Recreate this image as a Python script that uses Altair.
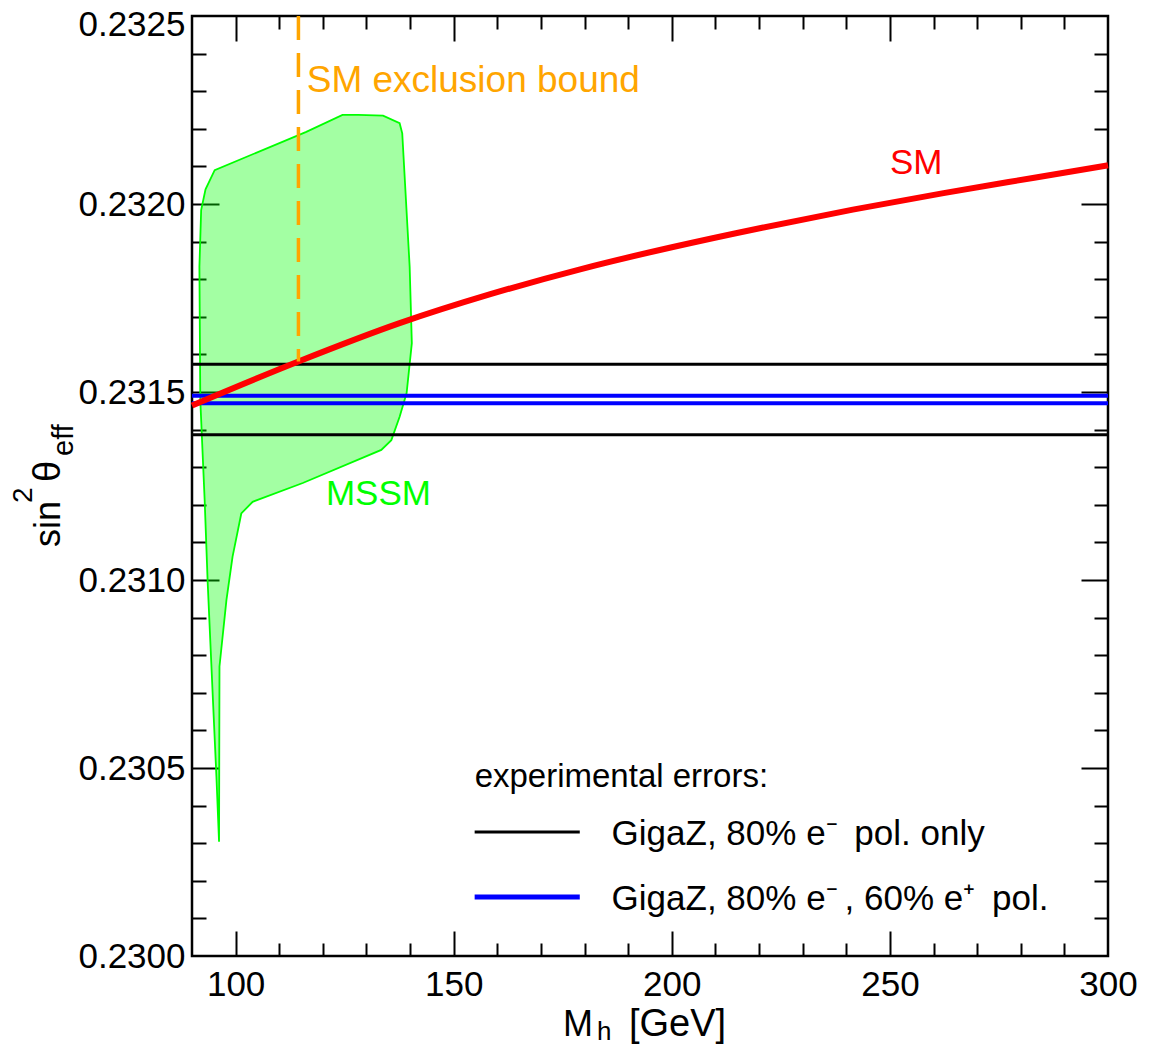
import altair as alt
import pandas as pd

FONT = "Liberation Sans"

# ---------------- axes ----------------
x_domain = [90, 300]
y_domain = [0.2300, 0.2325]
x_label_values = [100, 150, 200, 250, 300]
y_label_values = [0.2300, 0.2305, 0.2310, 0.2315, 0.2320, 0.2325]
x_major_ticks = [100, 150, 200, 250]
x_minor_ticks = [110, 120, 130, 140, 160, 170, 180, 190, 210, 220, 230, 240,
                 260, 270, 280, 290]
y_major_ticks = [0.2305, 0.2310, 0.2315, 0.2320]
y_minor_ticks = [0.2301, 0.2302, 0.2303, 0.2304, 0.2306, 0.2307, 0.2308, 0.2309,
                 0.2311, 0.2312, 0.2313, 0.2314, 0.2316, 0.2317, 0.2318, 0.2319,
                 0.2321, 0.2322, 0.2323, 0.2324]

# ---------------- data ----------------
# SM prediction
sm_mh = [90.0, 114.4, 137.6, 158.4, 179.2, 200.0, 220.7, 241.5, 262.3, 283.1, 300.0]
sm_s = [0.231464, 0.231581, 0.231683, 0.231760, 0.231827, 0.231885, 0.231937,
        0.231985, 0.232029, 0.232070, 0.232103]

# MSSM allowed region (outline, clockwise)
mssm_mh = [124.5, 128.1, 133.8, 137.6, 138.2, 139.9, 140.4, 139.2, 137.6, 135.7,
           133.4, 115.4, 103.9, 101.3, 99.3, 97.9, 96.3, 96.2, 95.6, 94.8, 93.6,
           92.9, 91.9, 91.7, 92.1, 93.1, 95.2, 116.2]
mssm_s = [0.232237, 0.232237, 0.232235, 0.232215, 0.232188, 0.231833, 0.231630,
          0.231497, 0.231434, 0.231372, 0.231346, 0.231258, 0.231208, 0.231177,
          0.231062, 0.230947, 0.230770, 0.230304, 0.230477, 0.230681, 0.230992,
          0.231213, 0.231479, 0.231833, 0.231984, 0.232039, 0.232090, 0.232192]

# experimental errors
exp_center = 0.23148
err_e_only = 0.000094
err_e_pos = 0.0000097

# SM exclusion bound
lep_bound = 114.4

xs = alt.Scale(domain=x_domain, nice=False, zero=False)
ys = alt.Scale(domain=y_domain, nice=False, zero=False)


def X(field="x", axis=None):
    return alt.X(f"{field}:Q", scale=xs, axis=axis)


def Y(field="y", axis=None):
    return alt.Y(f"{field}:Q", scale=ys, axis=axis)


# ---------------- layers ----------------
mssm_df = pd.DataFrame({"x": mssm_mh, "y": mssm_s, "i": list(range(len(mssm_mh)))})
mssm = alt.Chart(mssm_df).mark_line(
    fill="#00ff00", fillOpacity=0.36, stroke="#00ff00", strokeWidth=1.8,
    interpolate="linear-closed"
).encode(x=X(), y=Y(), order="i:Q")

black_df = pd.DataFrame({"y": [exp_center - err_e_only, exp_center + err_e_only]})
black_lines = alt.Chart(black_df).mark_rule(color="black", strokeWidth=3).encode(y=Y())

blue_df = pd.DataFrame({"y": [exp_center - err_e_pos, exp_center + err_e_pos]})
blue_lines = alt.Chart(blue_df).mark_rule(color="#0000ff", strokeWidth=4).encode(y=Y())

sm_df = pd.DataFrame({"x": sm_mh, "y": sm_s})
sm_line = alt.Chart(sm_df).mark_line(
    color="#ff0000", strokeWidth=6, interpolate="monotone"
).encode(x=X(), y=Y())

bound_df = pd.DataFrame({"x": [lep_bound], "y": [y_domain[1]], "y2": [sm_s[1]]})
bound = alt.Chart(bound_df).mark_rule(
    color="#ffa500", strokeWidth=3.5, strokeDash=[24, 13]
).encode(x=X(), y=Y(), y2="y2:Q")


def label(text, x, y, color="black", size=35, **kw):
    df = pd.DataFrame({"x": [x], "y": [y], "t": [text]})
    return alt.Chart(df).mark_text(
        font=FONT, fontSize=size, color=color, align="left",
        baseline="alphabetic", **kw
    ).encode(x=X(), y=Y(), text="t:N")


def plabel(text, px, py, size=35, **kw):
    df = pd.DataFrame({"t": [text]})
    return alt.Chart(df).mark_text(
        font=FONT, fontSize=size, color="black", align="left",
        baseline="alphabetic", **kw
    ).encode(x=alt.value(px), y=alt.value(py), text="t:N")


texts = [
    label("SM", 250.0, 0.23208, color="#ff0000", size=35),
    label("MSSM", 120.7, 0.23120, color="#00ff00", size=35),
    label("SM exclusion bound", 116.3, 0.232299, color="#ffa500", size=37),
    label("experimental errors:", 154.8, 0.23045, size=33),
    label("GigaZ, 80% e\u207b\u2009 pol. only", 186.2, 0.230295, size=35),
    label("GigaZ, 80% e\u207b\u2009, 60% e\u207a\u2009 pol.", 186.2, 0.230122, size=35),
]

leg_df = pd.DataFrame({"x": [154.8], "x2": [178.9],
                       "yb": [0.23033], "yu": [0.230157]})
leg_black = alt.Chart(leg_df).mark_rule(color="black", strokeWidth=3).encode(
    x=X(), x2="x2:Q", y=Y("yb"))
leg_blue = alt.Chart(leg_df).mark_rule(color="#0000ff", strokeWidth=5).encode(
    x=X(), x2="x2:Q", y=Y("yu"))

# axis titles (pixel positions relative to plot origin)
titles = [
    plabel("sin", -132, 531, size=36, angle=270),
    plabel("2", -160, 487, size=28, angle=270),
    plabel("\u03b8", -132, 466, size=38, angle=270),
    plabel("eff", -119, 440, size=29, angle=270),
    plabel("M", 371, 1020, size=36),
    plabel("h", 405, 1024, size=26),
    plabel("[GeV]", 437, 1020, size=38),
]

# ---------------- axes layers ----------------
frame_df = pd.DataFrame({"x": x_domain, "y": y_domain})


def tick_axis(orient, values, size):
    return alt.Axis(orient=orient, values=values, labels=False, domain=False,
                    grid=False, ticks=True, tickSize=size, tickWidth=2,
                    tickColor="black", offset=-size, title=None)


def axis_layer(xaxis, yaxis):
    return alt.Chart(frame_df).mark_point(opacity=0).encode(
        x=alt.X("x:Q", scale=xs, axis=xaxis), y=alt.Y("y:Q", scale=ys, axis=yaxis))


label_layer = axis_layer(
    alt.Axis(orient="bottom", values=x_label_values, format="d", ticks=False,
             tickSize=0, domain=False, grid=False, labelFont=FONT,
             labelFontSize=35, labelColor="black", labelPadding=11,
             labelFlush=False, labelOverlap=False, title=None),
    alt.Axis(orient="left", values=y_label_values, format=".4f", ticks=False,
             tickSize=0, domain=False, grid=False, labelFont=FONT,
             labelFontSize=35, labelColor="black", labelPadding=7,
             labelFlush=False, labelOverlap=False, title=None,
             labelOffset={"condition": {"test": "datum.value > 0.23249", "value": 8},
                          "value": 0}),
)
ticks_layers = [
    axis_layer(tick_axis("bottom", x_major_ticks, 25), tick_axis("left", y_major_ticks, 27)),
    axis_layer(tick_axis("bottom", x_minor_ticks, 13), tick_axis("left", y_minor_ticks, 14)),
    axis_layer(tick_axis("top", x_major_ticks, 25), tick_axis("right", y_major_ticks, 27)),
    axis_layer(tick_axis("top", x_minor_ticks, 13), tick_axis("right", y_minor_ticks, 14)),
]

chart = alt.layer(
    mssm, black_lines, blue_lines, sm_line, bound, leg_black, leg_blue,
    *texts, *titles, label_layer, *ticks_layers
).resolve_axis(
    x="independent", y="independent"
).properties(
    width=916, height=940,
    padding={"left": 184, "top": 8, "right": 30, "bottom": 90},
    autosize=alt.AutoSizeParams(type="none"),
    background="white",
).configure_view(
    stroke="black", strokeWidth=2.5
)

chart.save("out.html", embed_options={"renderer": "svg", "actions": False})
